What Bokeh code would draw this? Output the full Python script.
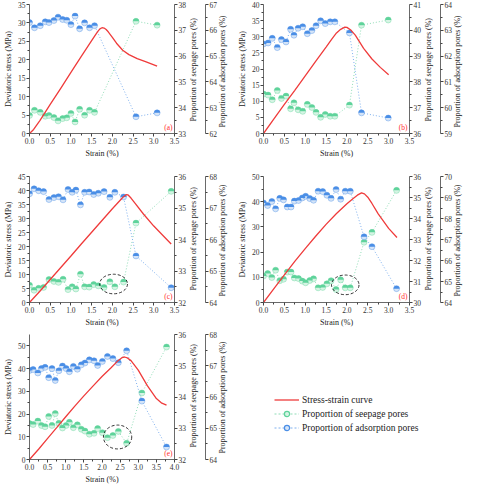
import numpy as np
from bokeh.plotting import figure
from bokeh.models import (Range1d, LinearAxis, FixedTicker, Label, Legend,
                          LegendItem, PrintfTickFormatter)
from bokeh.layouts import column, row
from bokeh.embed import file_html
from bokeh.resources import INLINE

FONT = "Liberation Serif"
RED = "#ef3b3b"
G_DARK, G_LIGHT, G_LINE = "#5fd39b", "#d6f4e4", "#8fdcb6"
B_DARK, B_LIGHT, B_LINE = "#4a8ee6", "#d4e4f8", "#7fb0ee"
AX = "#444444"

# ---------------- data ----------------
# (a)
a_curve_strain = [0, 0.1, 0.25, 0.5, 0.75, 1.0, 1.25, 1.5, 1.6, 1.65, 1.7, 1.75, 1.8, 1.85, 1.9, 2.0, 2.1, 2.25, 2.4, 2.6, 2.8, 3.08]
a_curve_stress = [0, 1.1, 3.5, 7.9, 12.2, 16.6, 20.9, 25.2, 26.9, 27.7, 28.4, 28.7, 28.6, 28.2, 27.6, 26.1, 24.5, 22.6, 21.4, 20.3, 19.5, 18.3]
a_pt_strain = [0.00, 0.12, 0.26, 0.38, 0.47, 0.59, 0.69, 0.80, 0.90, 1.00, 1.10, 1.21, 1.33, 1.45, 1.57, 2.57, 3.08]
a_seep = [33.70, 33.90, 33.82, 33.67, 33.70, 33.62, 33.49, 33.58, 33.61, 33.78, 33.45, 33.94, 33.71, 33.90, 33.82, 37.35, 37.20]
a_ads = [66.30, 66.10, 66.18, 66.33, 66.30, 66.38, 66.51, 66.42, 66.39, 66.22, 66.55, 66.06, 66.29, 66.10, 66.18, 62.65, 62.80]

# (b)
b_curve_strain = [0, 0.25, 0.5, 0.75, 1.0, 1.25, 1.5, 1.65, 1.75, 1.85, 1.95, 2.0, 2.1, 2.2, 2.4, 2.6, 2.8, 3.0]
b_curve_stress = [0, 4.5, 9.0, 13.4, 17.9, 22.4, 26.8, 29.5, 31.2, 32.3, 33.0, 32.9, 32.0, 30.5, 26.4, 23.1, 20.5, 18.2]
b_pt_strain = [0.00, 0.11, 0.21, 0.33, 0.43, 0.54, 0.65, 0.73, 0.83, 0.94, 1.05, 1.16, 1.26, 1.37, 1.48, 1.60, 1.71, 2.06, 2.35, 2.99]
b_seep = [37.53, 37.49, 37.31, 37.67, 37.36, 37.45, 36.96, 37.19, 36.92, 36.86, 37.13, 37.01, 36.82, 36.63, 36.74, 36.67, 36.67, 37.10, 40.20, 40.40]
b_ads = [62.47, 62.51, 62.69, 62.33, 62.64, 62.55, 63.04, 62.81, 63.08, 63.14, 62.87, 62.99, 63.18, 63.37, 63.26, 63.33, 63.33, 62.90, 59.80, 59.60]

# (c)
c_curve_strain = [0, 0.25, 0.5, 0.75, 1.0, 1.25, 1.5, 1.75, 2.0, 2.1, 2.2, 2.27, 2.33, 2.38, 2.45, 2.55, 2.75, 3.0, 3.25, 3.42]
c_curve_stress = [0, 4.0, 8.2, 12.4, 16.6, 20.9, 25.1, 29.3, 33.5, 35.1, 36.7, 37.8, 38.5, 38.4, 37.3, 35.4, 31.6, 27.3, 23.5, 20.9]
c_pt_strain = [0.00, 0.11, 0.22, 0.34, 0.47, 0.59, 0.70, 0.81, 0.93, 1.03, 1.12, 1.23, 1.33, 1.44, 1.55, 1.66, 1.80, 1.94, 2.06, 2.27, 2.57, 3.42]
c_seep = [32.55, 32.39, 32.45, 32.48, 32.73, 32.67, 32.64, 32.74, 32.41, 32.50, 32.43, 32.90, 32.50, 32.49, 32.57, 32.53, 32.48, 32.66, 32.50, 32.65, 34.52, 35.53]
c_ads = [67.45, 67.61, 67.55, 67.52, 67.27, 67.33, 67.36, 67.26, 67.59, 67.50, 67.57, 67.10, 67.50, 67.51, 67.43, 67.47, 67.52, 67.34, 67.50, 67.35, 65.48, 64.47]
c_ellipse = dict(x=2.03, y=6.6, w=0.67, h=7.0)

# (d)
d_curve_strain = [0, 0.25, 0.5, 0.75, 1.0, 1.25, 1.5, 1.75, 2.0, 2.15, 2.25, 2.35, 2.42, 2.5, 2.6, 2.75, 3.0, 3.2]
d_curve_stress = [0, 5.5, 11.0, 16.3, 21.4, 26.3, 31.0, 35.3, 39.2, 41.3, 42.6, 43.5, 43.1, 41.8, 39.3, 35.2, 29.4, 25.8]
d_pt_strain = [0.00, 0.10, 0.20, 0.29, 0.39, 0.48, 0.57, 0.66, 0.74, 0.84, 0.93, 1.01, 1.11, 1.20, 1.31, 1.42, 1.52, 1.62, 1.74, 1.85, 1.96, 2.08, 2.41, 2.60, 3.19]
d_seep = [31.26, 31.38, 31.19, 31.54, 31.04, 31.11, 31.45, 31.45, 31.17, 31.14, 31.02, 30.94, 31.05, 31.13, 30.70, 30.72, 30.89, 31.04, 30.62, 31.08, 30.70, 30.70, 32.87, 33.34, 35.34]
d_ads = [68.74, 68.62, 68.81, 68.46, 68.96, 68.89, 68.55, 68.55, 68.83, 68.86, 68.98, 69.06, 68.95, 68.87, 69.30, 69.28, 69.11, 68.96, 69.38, 68.92, 69.30, 69.30, 67.13, 66.66, 64.66]
d_ellipse = dict(x=1.96, y=7.0, w=0.66, h=7.8)

# (e)
e_curve_strain = [0, 0.25, 0.5, 0.75, 1.0, 1.25, 1.5, 1.75, 2.0, 2.25, 2.45, 2.55, 2.62, 2.7, 2.8, 3.0, 3.25, 3.5, 3.65, 3.78]
e_curve_stress = [0, 4.5, 9.3, 14.0, 18.8, 23.5, 28.0, 32.3, 36.5, 40.4, 43.6, 44.8, 45.1, 44.7, 43.5, 39.3, 32.5, 26.8, 24.8, 23.9]
e_pt_strain = [0.00, 0.10, 0.23, 0.33, 0.43, 0.53, 0.62, 0.71, 0.81, 0.91, 1.01, 1.10, 1.21, 1.32, 1.43, 1.53, 1.65, 1.78, 1.88, 2.01, 2.15, 2.30, 2.45, 2.68, 3.10, 3.78]
e_seep = [33.15, 33.12, 33.23, 33.09, 33.05, 33.38, 33.09, 33.47, 33.16, 33.01, 33.09, 33.19, 33.02, 33.11, 32.97, 32.91, 32.81, 32.84, 32.99, 32.86, 32.70, 32.77, 32.90, 32.52, 34.13, 35.60]
e_ads = [66.85, 66.88, 66.77, 66.91, 66.95, 66.62, 66.91, 66.53, 66.84, 66.99, 66.91, 66.81, 66.98, 66.89, 67.03, 67.09, 67.19, 67.16, 67.01, 67.14, 67.30, 67.23, 67.10, 67.48, 65.87, 64.40]
e_ellipse = dict(x=2.43, y=9.9, w=0.78, h=10.5)

x_ticks_35 = [0.0, 0.5, 1.0, 1.5, 2.0, 2.5, 3.0, 3.5]
x_ticks_40 = [0.0, 0.5, 1.0, 1.5, 2.0, 2.5, 3.0, 3.5, 4.0]

X_LABEL = "Strain (%)"
Y_LABEL = "Deviatoric stress (MPa)"
S_LABEL = "Proportion of seepage pores (%)"
A_LABEL = "Proportion of adsorption pores (%)"
LEGEND_LABELS = ["Stress-strain curve", "Proportion of seepage pores", "Proportion of adsorption pores"]

NB = "\u00a0"


def mids(t):
    return [(u + v) / 2 for u, v in zip(t[:-1], t[1:])]


def style_axis(ax):
    ax.axis_label_text_font = FONT
    ax.axis_label_text_font_style = "normal"
    ax.axis_label_text_font_size = "8px"
    ax.axis_label_text_color = "#222222"
    ax.major_label_text_font = FONT
    ax.major_label_text_font_size = "7.5px"
    ax.major_label_text_color = "#333333"
    ax.axis_line_color = AX
    ax.axis_line_width = 0.8
    ax.major_tick_line_color = AX
    ax.minor_tick_line_color = AX
    ax.major_tick_out = 3
    ax.major_tick_in = 0
    ax.minor_tick_out = 2
    ax.minor_tick_in = 0
    ax.major_label_standoff = 1
    ax.axis_label_standoff = 2


def right_label(ax, text, pad):
    """Right-hand axis label reading bottom-to-top like the reference."""
    props = ax.properties()
    ax.axis_label = text
    if "axis_label_orientation" in props and "axis_label_align" in props:
        try:
            ax.axis_label_orientation = np.pi / 2
            ax.axis_label_align = "start"
            ax.axis_label = NB * pad + text
        except Exception:
            ax.axis_label_orientation = "parallel"
            ax.axis_label = text


def points(p, xs, ys, rname, dark, light, line):
    p.line(xs, ys, y_range_name=rname, line_color=line, line_width=1.0, line_dash="1 2")
    p.scatter(xs, ys, y_range_name=rname, marker="circle", size=6,
              fill_color=light, line_color=dark, line_width=0.4)
    p.wedge(xs, ys, y_range_name=rname, radius=3, radius_units="screen",
            start_angle=0, end_angle=np.pi, fill_color=dark, line_color=None)


def make_panel(cx, cy, px, seep, ads, xmax, xticks, ymax, yticks, srng, sticks,
               arng, aticks, tag, ell, w, h, bl, br, bt, bb):
    p = figure(width=w, height=h, output_backend="svg", toolbar_location=None,
               x_range=Range1d(0, xmax), y_range=Range1d(0, ymax),
               min_border_left=bl, min_border_right=br, min_border_top=bt,
               min_border_bottom=bb)
    p.extra_y_ranges = {"seep": Range1d(*srng), "ads": Range1d(*arng)}
    p.outline_line_color = None
    p.xgrid.visible = False
    p.ygrid.visible = False
    p.background_fill_color = "white"
    p.border_fill_color = "white"

    xa = p.xaxis[0]
    xa.ticker = FixedTicker(ticks=xticks, minor_ticks=mids(xticks))
    xa.formatter = PrintfTickFormatter(format="%.1f")
    xa.axis_label = X_LABEL
    style_axis(xa)
    ya = p.yaxis[0]
    ya.ticker = FixedTicker(ticks=yticks, minor_ticks=mids(yticks))
    ya.axis_label = Y_LABEL
    style_axis(ya)

    sa = LinearAxis(y_range_name="seep", ticker=FixedTicker(ticks=sticks, minor_ticks=mids(sticks)))
    style_axis(sa)
    sa.axis_label_standoff = 4
    right_label(sa, S_LABEL, 6)
    p.add_layout(sa, "right")
    aa = LinearAxis(y_range_name="ads", ticker=FixedTicker(ticks=aticks, minor_ticks=mids(aticks)))
    style_axis(aa)
    right_label(aa, A_LABEL, 3)
    p.add_layout(aa, "right")

    points(p, px, seep, "seep", G_DARK, G_LIGHT, G_LINE)
    points(p, px, ads, "ads", B_DARK, B_LIGHT, B_LINE)
    p.line(cx, cy, line_color=RED, line_width=1.3)

    if ell is not None:
        p.ellipse(x=[ell["x"]], y=[ell["y"]], width=[ell["w"]], height=[ell["h"]],
                  fill_color=None, line_color="black", line_width=0.8, line_dash="3 2")

    p.add_layout(Label(x=xmax, y=0, x_offset=-2, y_offset=2, text=tag,
                       text_align="right", text_baseline="bottom", text_font=FONT,
                       text_font_size="7.5px", text_color="#ff3030"))
    return p


pa = make_panel(a_curve_strain, a_curve_stress, a_pt_strain, a_seep, a_ads, 3.5, x_ticks_35,
                35, list(range(0, 36, 5)), (33, 38), list(range(33, 39)),
                (62, 67), list(range(62, 68)), "(a)", None, 234, 164, 27, 47, 4, 31)
pb = make_panel(b_curve_strain, b_curve_stress, b_pt_strain, b_seep, b_ads, 3.5, x_ticks_35,
                40, list(range(0, 41, 5)), (36, 41), list(range(36, 42)),
                (59, 64), list(range(59, 65)), "(b)", None, 235, 164, 21, 55, 4, 31)
pc = make_panel(c_curve_strain, c_curve_stress, c_pt_strain, c_seep, c_ads, 3.5, x_ticks_35,
                45, list(range(0, 46, 5)), (32, 36), list(range(32, 37)),
                (64, 68), list(range(64, 69)), "(c)", c_ellipse, 234, 165, 27, 47, 12, 25)
pd_ = make_panel(d_curve_strain, d_curve_stress, d_pt_strain, d_seep, d_ads, 3.5, x_ticks_35,
                 50, list(range(0, 51, 10)), (30, 36), list(range(30, 37)),
                 (64, 70), list(range(64, 71)), "(d)", d_ellipse, 235, 165, 21, 54, 12, 25)
pe = make_panel(e_curve_strain, e_curve_stress, e_pt_strain, e_seep, e_ads, 4.0, x_ticks_40,
                55, list(range(0, 51, 10)), (32, 36), list(range(32, 37)),
                (64, 68), list(range(64, 69)), "(e)", e_ellipse, 234, 157, 27, 47, 5, 25)

# legend panel (swatch renderers sit outside the visible range)
lg = figure(width=235, height=157, output_backend="svg", toolbar_location=None,
            x_axis_type=None, y_axis_type=None, min_border=0,
            x_range=Range1d(0, 1), y_range=Range1d(0, 1))
lg.outline_line_color = None
lg.xgrid.visible = False
lg.ygrid.visible = False
off = [-5]
r1 = lg.line(off, off, line_color=RED, line_width=1.3)
r2 = lg.line(off, off, line_color=G_LINE, line_width=1.0, line_dash="2 2")
r2m = lg.scatter(off, off, marker="circle", size=6, fill_color=G_LIGHT, line_color=G_DARK, line_width=1.2)
r3 = lg.line(off, off, line_color=B_LINE, line_width=1.0, line_dash="2 2")
r3m = lg.scatter(off, off, marker="circle", size=6, fill_color=B_LIGHT, line_color=B_DARK, line_width=1.2)
legend = Legend(items=[LegendItem(label=LEGEND_LABELS[0], renderers=[r1]),
                       LegendItem(label=LEGEND_LABELS[1], renderers=[r2, r2m]),
                       LegendItem(label=LEGEND_LABELS[2], renderers=[r3, r3m])],
                location=(40, 25), glyph_width=25, glyph_height=13, label_height=13,
                spacing=1, padding=0, margin=0, label_standoff=3,
                border_line_color=None, background_fill_alpha=0,
                label_text_font=FONT, label_text_font_size="9.5px",
                label_text_color="#222222")
lg.add_layout(legend)

layout = column(row(pa, pb), row(pc, pd_), row(pe, lg))
open("out.html", "w").write(file_html(layout, INLINE))
